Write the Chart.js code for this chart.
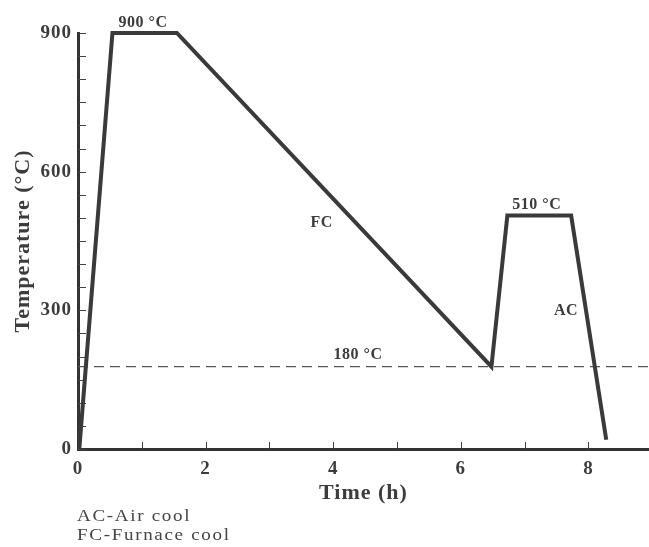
<!DOCTYPE html>
<html>
<head>
<meta charset="utf-8">
<script src="https://cdn.jsdelivr.net/npm/chart.js@4/dist/chart.umd.min.js"></script>
<style>
html,body{margin:0;padding:0;background:#fff;}
#wrap{width:649px;height:547px;position:relative;}
</style>
</head>
<body>
<div id="wrap"><canvas id="c" width="649" height="547"></canvas></div>
<script>
// Data
const timeH = [0.02, 0.54, 1.55, 6.48, 6.73, 7.73, 8.28];
const tempC = [0, 900, 900, 178, 505, 505, 20];
const refLineTemp = 178;
const xTickLabels = [0, 2, 4, 6, 8];
const yTickLabels = [0, 300, 600, 900];
const annTexts = ["900 °C", "FC", "510 °C", "AC", "180 °C"];
const annX = [1.02, 3.82, 7.19, 7.65, 4.39];
const annY = [922, 489, 528, 298, 203];
const noteLines = ["AC-Air cool", "FC-Furnace cool"];

const SERIF = "'Liberation Serif','Times New Roman',serif";
const INK = '#3c3c3c';

const pts = timeH.map((t, i) => ({x: t, y: tempC[i]}));

const overlay = {
  id: 'overlay',
  beforeDraw(chart) {
    chart.ctx.letterSpacing = '1px';
  },
  beforeDatasetsDraw(chart) {
    const {ctx, scales: {x, y}, chartArea: a} = chart;
    ctx.save();
    // dashed reference line
    ctx.strokeStyle = '#555';
    ctx.lineWidth = 1.2;
    ctx.setLineDash([10, 6]);
    const yy = y.getPixelForValue(refLineTemp);
    ctx.beginPath();
    ctx.moveTo(a.left, yy);
    ctx.lineTo(a.right, yy);
    ctx.stroke();
    ctx.setLineDash([]);
    // inward ticks
    ctx.strokeStyle = '#444';
    ctx.lineWidth = 1;
    for (let v = 0; v <= 900; v += 50) {
      const p = Math.round(y.getPixelForValue(v)) + 0.5;
      ctx.beginPath(); ctx.moveTo(a.left, p); ctx.lineTo(a.left + 8, p); ctx.stroke();
    }
    for (let v = 0; v <= 8; v += 1) {
      const p = Math.round(x.getPixelForValue(v)) + 0.5;
      ctx.beginPath(); ctx.moveTo(p, a.bottom); ctx.lineTo(p, a.bottom - 7); ctx.stroke();
    }
    ctx.restore();
  },
  afterDraw(chart) {
    const {ctx, scales: {x, y}, chartArea: a} = chart;
    ctx.save();
    ctx.fillStyle = INK;
    ctx.textAlign = 'center';
    ctx.textBaseline = 'middle';
    ctx.letterSpacing = '0.5px';
    ctx.font = 'bold 16px ' + SERIF;
    annTexts.forEach((t, i) => {
      ctx.fillText(t, x.getPixelForValue(annX[i]), y.getPixelForValue(annY[i]));
    });
    ctx.textAlign = 'left';
    ctx.textBaseline = 'alphabetic';
    ctx.font = '17px ' + SERIF;
    ctx.letterSpacing = '1.5px';
    ctx.fillStyle = '#444';
    noteLines.forEach((t, i) => {
      ctx.save();
      ctx.translate(a.left - 1, 521 + i * 19);
      ctx.scale(1.12, 1);
      ctx.fillText(t, 0, 0);
      ctx.restore();
    });
    ctx.restore();
  }
};

new Chart(document.getElementById('c'), {
  type: 'scatter',
  data: {
    datasets: [{
      data: pts,
      showLine: true,
      borderColor: '#3a3a3a',
      borderWidth: 4,
      pointRadius: 0,
      borderJoinStyle: 'miter',
      clip: false,
      tension: 0
    }]
  },
  options: {
    responsive: false,
    animation: false,
    devicePixelRatio: 1,
    layout: {padding: {top: 33, right: 0, bottom: 0, left: 0}},
    plugins: {legend: {display: false}, tooltip: {enabled: false}},
    scales: {
      x: {
        type: 'linear',
        min: 0, max: 8.95,
        afterFit(s) { s.height = 98; },
        afterBuildTicks(s) { s.ticks = xTickLabels.map(v => ({value: v})); },
        grid: {display: false, drawTicks: false},
        border: {display: true, color: '#333', width: 3},
        ticks: {
          padding: 9,
          color: INK,
          font: {family: SERIF, size: 19, weight: 'bold'},
          maxRotation: 0
        },
        title: {
          display: true,
          text: 'Time (h)',
          color: INK,
          font: {family: SERIF, size: 22, weight: 'bold'},
          padding: {top: 4, bottom: 40}
        }
      },
      y: {
        type: 'linear',
        min: 0, max: 900,
        afterFit(s) { s.width = 78; },
        afterBuildTicks(s) { s.ticks = yTickLabels.map(v => ({value: v})); },
        grid: {display: false, drawTicks: false},
        border: {display: true, color: '#333', width: 3},
        ticks: {
          padding: 6,
          color: INK,
          font: {family: SERIF, size: 19, weight: 'bold'}
        },
        title: {
          display: true,
          text: 'Temperature (°C)',
          color: INK,
          font: {family: SERIF, size: 22, weight: 'bold'},
          padding: {top: 10, bottom: 0}
        }
      }
    }
  },
  plugins: [overlay]
});
</script>
</body>
</html>
